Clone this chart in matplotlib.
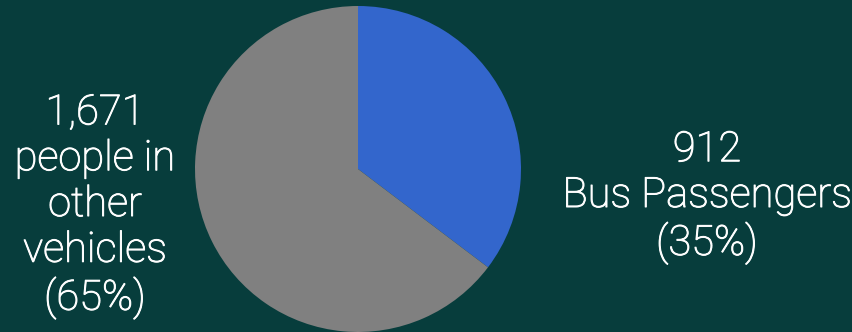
import matplotlib
matplotlib.use("Agg")
import matplotlib.pyplot as plt
import matplotlib.patheffects as pe

# commuters crossing in one hour
labels = ["Bus Passengers", "people in\nother\nvehicles"]
counts = [912, 1671]
shares = [35, 65]
colors = ["#3366cc", "#808080"]
bg = "#073d3c"

fig = plt.figure(figsize=(8.52, 3.32), dpi=100, facecolor=bg)
ax = fig.add_axes([0, 0, 1, 1])
ax.set_facecolor(bg)

ax.pie(counts, colors=colors, startangle=90, counterclock=False,
       center=(358, 163), radius=163, frame=True,
       wedgeprops=dict(linewidth=0))
ax.set_xlim(0, 852)
ax.set_ylim(0, 332)
ax.set_aspect("equal")
ax.axis("off")

font = dict(family=["Roboto", "DejaVu Sans"], fontweight="light",
            fontsize=30, color="white", ha="center", va="center",
            linespacing=1.15,
            path_effects=[pe.withStroke(linewidth=0.7, foreground="white")])

ax.text(707, 332 - 197, f"{counts[0]:,}\n{labels[0]}\n({shares[0]}%)", **font)
ax.text(95, 332 - 206, f"{counts[1]:,}\n{labels[1]}\n({shares[1]}%)", **font)

fig.savefig("out.png", dpi=100, facecolor=bg)
